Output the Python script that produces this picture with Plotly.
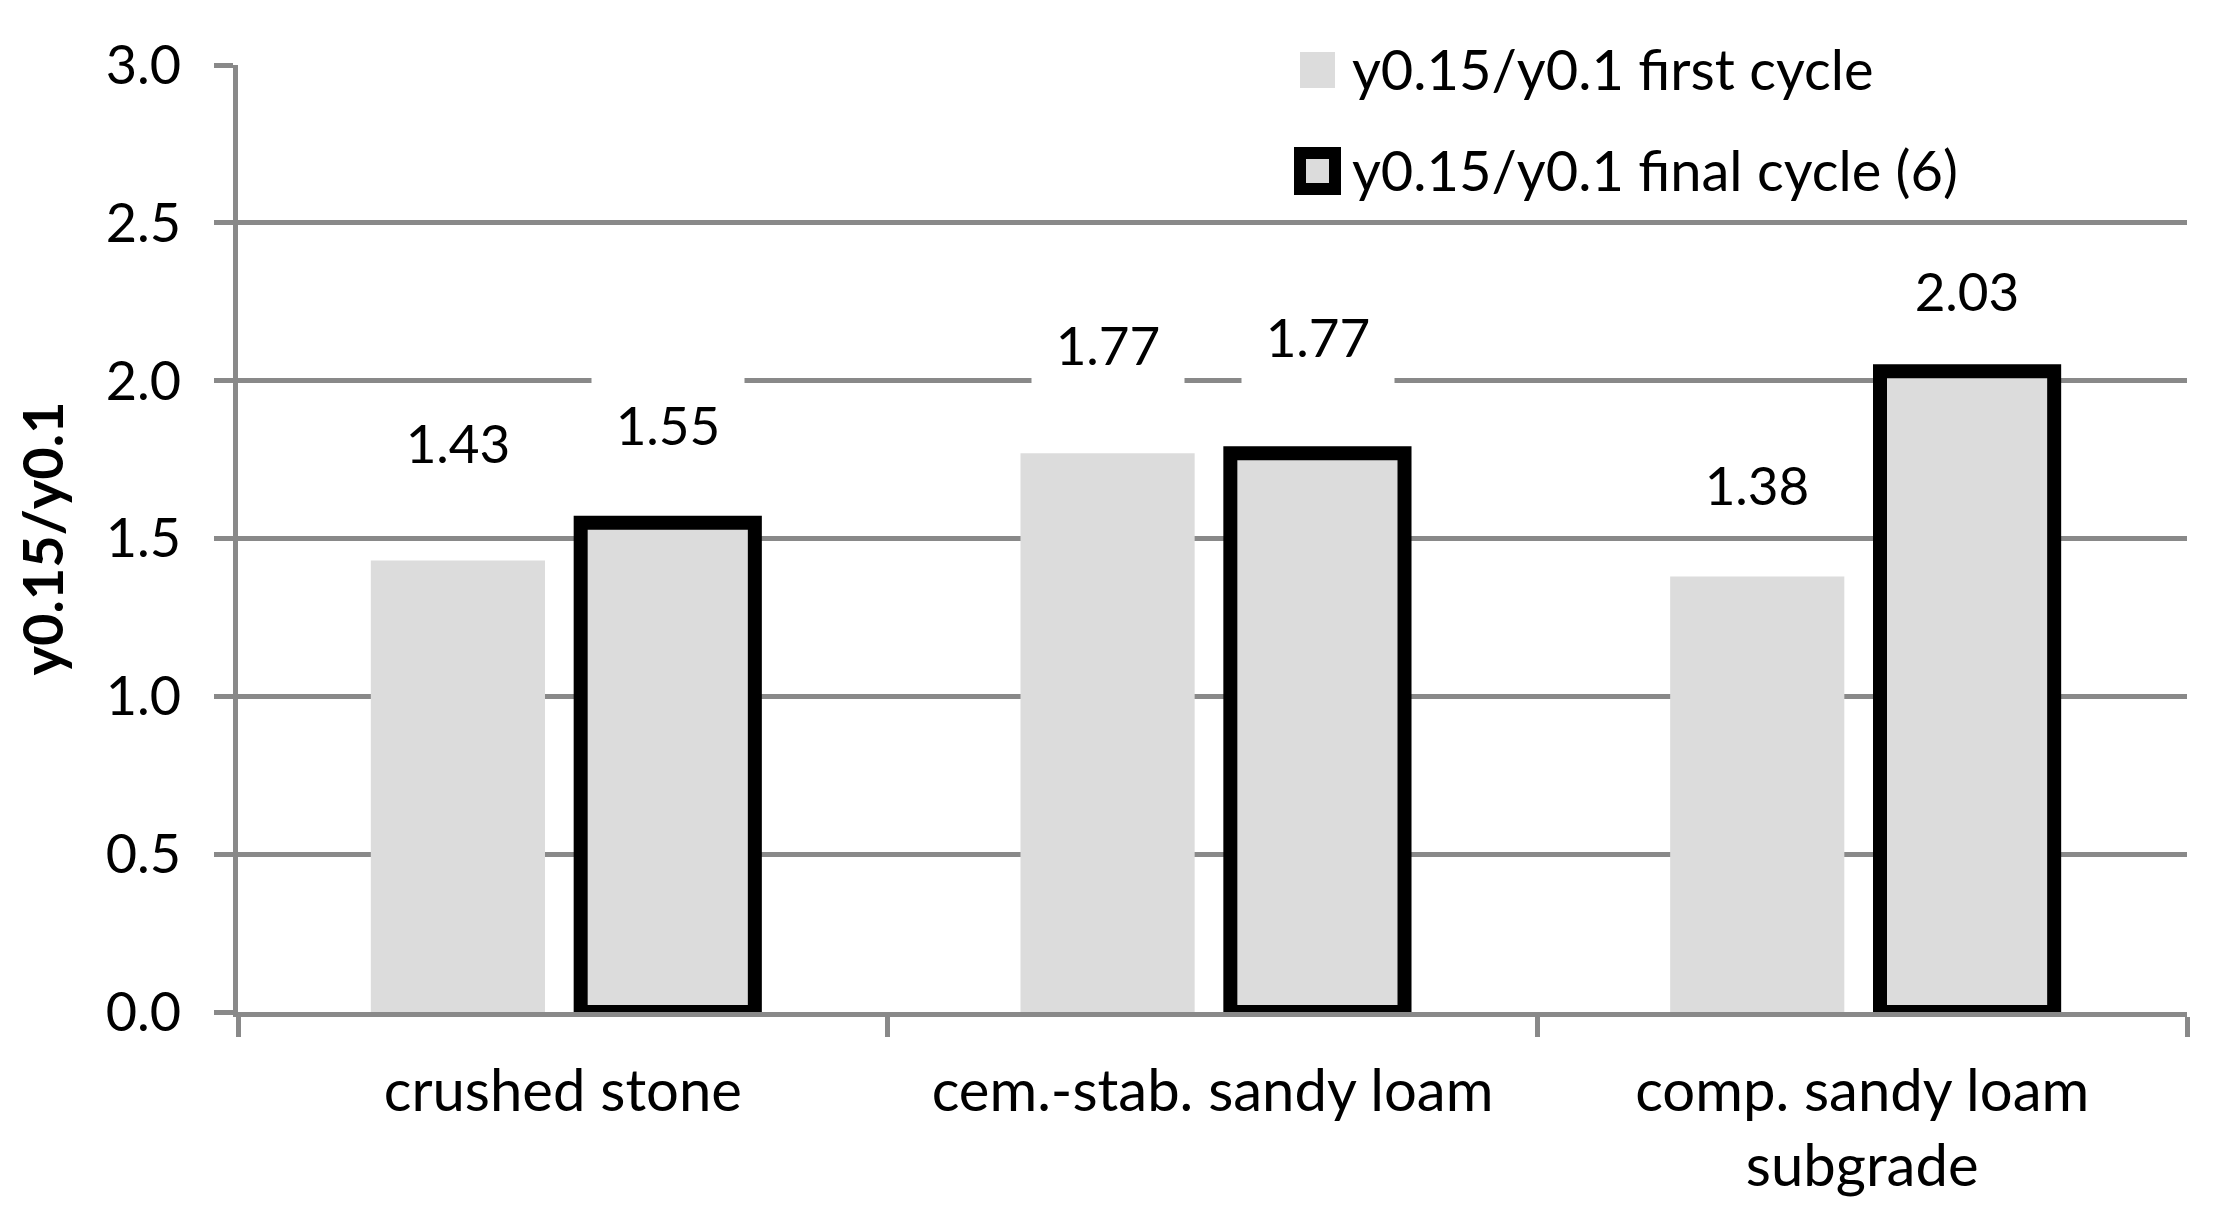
import plotly.graph_objects as go

# ---- data ----
categories = ["crushed stone", "cem.-stab. sandy loam", "comp. sandy loam<br>subgrade"]
first_cycle = [1.43, 1.77, 1.38]
final_cycle = [1.55, 1.77, 2.03]
series_names = ["y0.15/y0.1 first cycle", "y0.15/y0.1 final cycle (6)"]
y_title = "y0.15/y0.1"
y_ticks = [0.0, 0.5, 1.0, 1.5, 2.0, 2.5, 3.0]

# ---- style ----
OFF = 8  # default page body margin
W, H = 2221 - 2 * OFF, 1209 - 2 * OFF
PLOT_L, PLOT_R, PLOT_T, PLOT_B = 238, 2187, 65, 1012  # page pixels
L = PLOT_L - OFF
T = PLOT_T - OFF
R = W - (PLOT_R - OFF)
B = H - (PLOT_B - OFF)
PW, PH = W - L - R, H - T - B
GRID = "#898989"
FILL = "#dcdcdc"
FONT = "Lato, Calibri, sans-serif"

def px(x, y):
    return (x - PLOT_L) / PW, (PLOT_B - y) / PH

fig = go.Figure()
fig.add_trace(go.Bar(x=categories, y=first_cycle, name=series_names[0],
                     marker=dict(color=FILL, line=dict(width=0)), showlegend=False))
fig.add_trace(go.Bar(x=categories, y=final_cycle, name=series_names[1],
                     marker=dict(color=FILL, line=dict(width=14, color="black")),
                     showlegend=False))

# value labels with white boxes (lift in px above bar top)
lift_first = [119, 109, 92]
lift_final = [99, 117, 81]
for series, lifts, dx in ((first_cycle, lift_first, -105), (final_cycle, lift_final, 105)):
    for c, v, lift in zip(categories, series, lifts):
        fig.add_annotation(x=c, y=v, xref="x", yref="y", text=f"{v:.2f}",
                           showarrow=False, xshift=dx, yshift=lift,
                           font=dict(family=FONT, size=53, color="black"),
                           bgcolor="white", width=150, height=96,
                           xanchor="center", yanchor="middle")

# custom legend
shapes = []
bx0, by0 = px(1091, 30)
bx1, by1 = px(2167, 212)
shapes.append(dict(type="rect", xref="paper", yref="paper", x0=bx0, x1=bx1, y0=by1, y1=by0,
                   fillcolor="white", line=dict(width=0), layer="above"))
sx0, sy0 = px(1300, 52)
sx1, sy1 = px(1335, 88)
shapes.append(dict(type="rect", xref="paper", yref="paper", x0=sx0, x1=sx1, y0=sy1, y1=sy0,
                   fillcolor=FILL, line=dict(width=0), layer="above"))
sx0, sy0 = px(1300, 153)
sx1, sy1 = px(1335, 189)
shapes.append(dict(type="rect", xref="paper", yref="paper", x0=sx0, x1=sx1, y0=sy1, y1=sy0,
                   fillcolor=FILL, line=dict(width=12, color="black"), layer="above"))
for name, yy in zip(series_names, (69, 170)):
    ax, ay = px(1350, yy)
    fig.add_annotation(x=ax, y=ay, xref="paper", yref="paper", text=name, showarrow=False,
                       xanchor="left", yanchor="middle",
                       font=dict(family=FONT, size=56, color="black"))

fig.update_layout(
    width=W, height=H,
    margin=dict(l=L, r=R, t=T, b=B, autoexpand=False),
    paper_bgcolor="white", plot_bgcolor="white",
    barmode="group", bargap=0.354, bargroupgap=0.17,
    showlegend=False,
    shapes=shapes,
    font=dict(family=FONT, color="black"),
    xaxis=dict(showgrid=False, showline=True, linecolor=GRID, linewidth=5,
               ticks="outside", tickson="boundaries", ticklen=20, tickwidth=5, tickcolor=GRID,
               tickfont=dict(family=FONT, size=58, color="black"), ticklabelstandoff=24,
               automargin=False),
    yaxis=dict(range=[0, 3], tickvals=y_ticks, ticktext=[f"{v:.1f}" for v in y_ticks],
               showgrid=True, gridcolor=GRID, gridwidth=5, zeroline=False,
               showline=True, linecolor=GRID, linewidth=5,
               ticks="outside", ticklen=19, tickwidth=5, tickcolor=GRID,
               tickfont=dict(family=FONT, size=54, color="black"), ticklabelstandoff=22,
               title=dict(text=f"<b>{y_title}</b>", font=dict(family=FONT, size=56, color="black"),
                          standoff=34),
               automargin=False),
)

fig.write_html("out.html")
